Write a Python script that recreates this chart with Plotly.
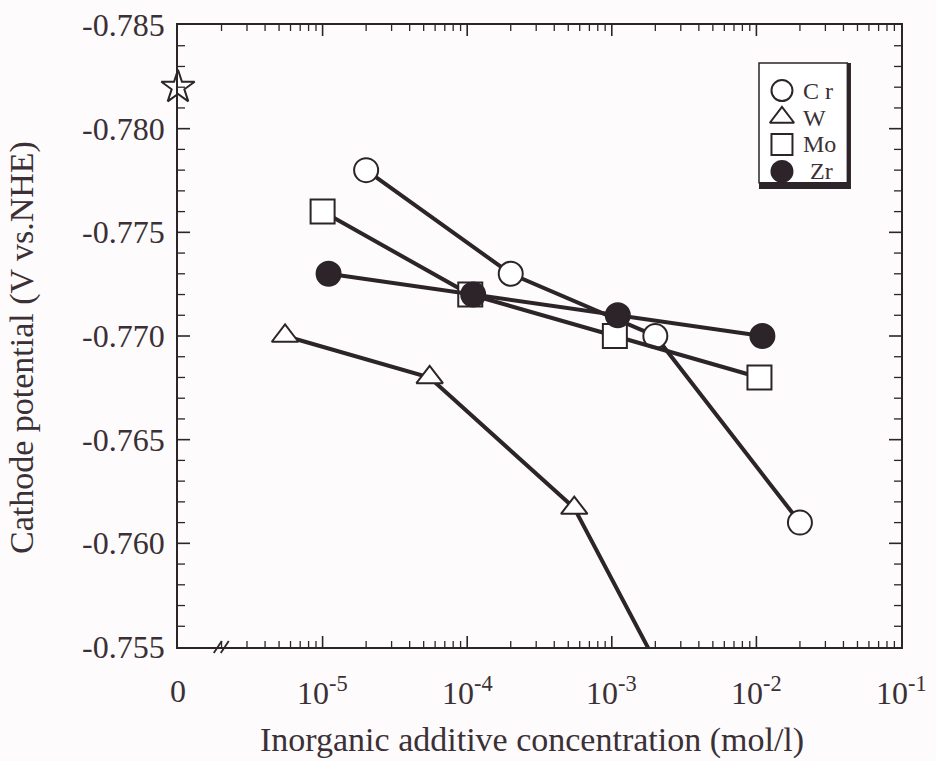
import math
import plotly.graph_objects as go

# ---- data -------------------------------------------------------------
SERIES = ["C r", "W", "Mo", "Zr"]

CONC_CR = [2e-5, 2e-4, 2e-3, 2e-2]
E_CR = [-0.778, -0.773, -0.770, -0.761]

CONC_W = [5.5e-6, 5.5e-5, 5.5e-4, 5.5e-3]
E_W = [-0.770, -0.768, -0.7617, -0.7485]

CONC_MO = [1e-5, 1.05e-4, 1.05e-3, 1.05e-2]
E_MO = [-0.776, -0.772, -0.770, -0.768]

CONC_ZR = [1.1e-5, 1.1e-4, 1.1e-3, 1.1e-2]
E_ZR = [-0.773, -0.772, -0.771, -0.770]

# additive-free bath, drawn on the "0" position of the broken axis
ZERO_POS = 1e-6
E_BLANK = -0.782

X_TICKVALS = [1e-6, 1e-5, 1e-4, 1e-3, 1e-2, 1e-1]
X_TICKTEXT = ["0", "10<sup>-5</sup>", "10<sup>-4</sup>", "10<sup>-3</sup>",
              "10<sup>-2</sup>", "10<sup>-1</sup>"]

Y_TICKVALS = [-0.785, -0.780, -0.775, -0.770, -0.765, -0.760, -0.755]
Y_TICKTEXT = ["-0.785", "-0.780", "-0.775", "-0.770", "-0.765", "-0.760", "-0.755"]

# axis extents
X_LOG_RANGE = [-6, -1]
Y_RANGE = [-0.755, -0.785]   # reversed: more negative potential at the top

# ---- style --------------------------------------------------------------
INK = "#2c2428"
TXT = "#3a3035"
BG = "#fdfbfc"
FONT = "Liberation Serif, Times New Roman, serif"
MSIZE = 24
LW = 4

STYLES = [
    dict(symbol="circle", color="white", line=dict(color=INK, width=2)),
    dict(symbol="triangle-up", color="white", line=dict(color=INK, width=2)),
    dict(symbol="square", color="white", line=dict(color=INK, width=2)),
    dict(symbol="circle", color=INK, line=dict(color=INK, width=2)),
]
DATA = [(CONC_CR, E_CR), (CONC_W, E_W), (CONC_MO, E_MO), (CONC_ZR, E_ZR)]

fig = go.Figure()

for name, (xs, ys), st in zip(SERIES, DATA, STYLES):
    fig.add_trace(go.Scatter(
        x=xs, y=ys, name=name, mode="lines+markers",
        line=dict(color=INK, width=LW),
        marker=dict(size=MSIZE if st["symbol"] != "triangle-up" else 23, **st),
        showlegend=False,
    ))

fig.add_trace(go.Scatter(
    x=[ZERO_POS], y=[E_BLANK], mode="markers", name="0",
    marker=dict(symbol="star", size=25, color="white", line=dict(color=INK, width=2)),
    cliponaxis=False, showlegend=False,
))

# ---- hand-drawn key on an auxiliary unit axis -----------------------------
KEY_X0, KEY_X1 = 0.8036, 0.9308
KEY_Y0, KEY_Y1 = 0.7363, 0.9389
row_y = [0.77 - i * 0.225 for i in range(len(SERIES))]

for name, st, yy in zip(SERIES, STYLES, row_y):
    fig.add_trace(go.Scatter(
        x=[0.26], y=[yy], xaxis="x2", yaxis="y2", mode="markers",
        marker=dict(size=21, **st),
        showlegend=False, hoverinfo="skip",
    ))
    fig.add_annotation(
        x=0.47 if name != "Zr" else 0.55, y=yy, xref="x2", yref="y2",
        text=name, showarrow=False, xanchor="left", yanchor="middle",
        font=dict(family=FONT, size=24, color=TXT),
    )

# key frame with drop shadow
fig.add_shape(type="rect", xref="paper", yref="paper",
              x0=KEY_X0, x1=KEY_X1, y0=KEY_Y0, y1=KEY_Y1, layer="below",
              line=dict(width=0), fillcolor=INK)
fig.add_shape(type="rect", xref="paper", yref="paper",
              x0=KEY_X0, x1=KEY_X1 - 0.005, y0=KEY_Y0 + 0.010, y1=KEY_Y1,
              layer="below", line=dict(color=INK, width=1.5), fillcolor="white")

# axis-break mark on the bottom axis
for dx in (0, 7):
    fig.add_shape(type="line", xref="paper", yref="paper",
                  xsizemode="pixel", xanchor=0.055, x0=dx - 4, x1=dx + 4,
                  ysizemode="pixel", yanchor=0, y0=-6, y1=6,
                  line=dict(color=INK, width=1.8), layer="above")


# ---- inward tick marks on all four sides of the frame ----------------------
def x_frac(v):
    return (math.log10(v) - X_LOG_RANGE[0]) / (X_LOG_RANGE[1] - X_LOG_RANGE[0])


def y_frac(v):
    return (v - Y_RANGE[0]) / (Y_RANGE[1] - Y_RANGE[0])


def x_tick(frac, length, width):
    for anchor, y0, y1 in ((0, 0, length), (1, -length, 0)):
        fig.add_shape(type="line", xref="paper", x0=frac, x1=frac,
                      yref="paper", ysizemode="pixel", yanchor=anchor, y0=y0, y1=y1,
                      line=dict(color=INK, width=width), layer="above")


def y_tick(frac, length, width):
    for anchor, x0, x1 in ((0, 0, length), (1, -length, 0)):
        fig.add_shape(type="line", yref="paper", y0=frac, y1=frac,
                      xref="paper", xsizemode="pixel", xanchor=anchor, x0=x0, x1=x1,
                      line=dict(color=INK, width=width), layer="above")


for e in range(X_LOG_RANGE[0], X_LOG_RANGE[1]):
    if e > X_LOG_RANGE[0]:
        x_tick(x_frac(10.0 ** e), 11, 1.6)
    for m in range(2, 10):
        x_tick(x_frac(m * 10.0 ** e), 6, 1.3)

n_minor = int(round(abs(Y_RANGE[1] - Y_RANGE[0]) / 0.001))
for k in range(1, n_minor):
    v = Y_RANGE[1] + k * 0.001
    if k % 5 == 0:
        y_tick(y_frac(v), 12, 1.6)
    else:
        y_tick(y_frac(v), 7, 1.3)

# tick labels (plain hyphen minus, superscript exponents)
for v, t in zip(X_TICKVALS, X_TICKTEXT):
    fig.add_annotation(x=math.log10(v), y=0, xref="x", yref="paper", text=t,
                       showarrow=False, xanchor="center", yanchor="middle",
                       yshift=-44, font=dict(family=FONT, size=32, color=TXT))
for v, t in zip(Y_TICKVALS, Y_TICKTEXT):
    fig.add_annotation(x=0, y=v, xref="paper", yref="y", text=t,
                       showarrow=False, xanchor="right", yanchor="middle",
                       xshift=-11, font=dict(family=FONT, size=32, color=TXT))

axis_common = dict(showline=True, linecolor=INK, linewidth=2, mirror=True,
                   ticks="", showgrid=False, zeroline=False, showticklabels=False)

fig.update_layout(
    width=936, height=761,
    margin=dict(l=178, r=35, t=25, b=114),
    paper_bgcolor=BG, plot_bgcolor="rgba(0,0,0,0)",
    xaxis=dict(type="log", range=X_LOG_RANGE, **axis_common),
    yaxis=dict(range=Y_RANGE, **axis_common),
    xaxis2=dict(domain=[KEY_X0, KEY_X1 - 0.005], range=[0, 1], visible=False,
                anchor="y2"),
    yaxis2=dict(domain=[KEY_Y0 + 0.010, KEY_Y1], range=[0, 1], visible=False,
                anchor="x2"),
    showlegend=False,
)

fig.add_annotation(text="Inorganic additive concentration (mol/l)",
                   xref="paper", yref="paper", x=0.49, y=-0.1495,
                   showarrow=False, xanchor="center", yanchor="middle",
                   font=dict(family=FONT, size=34, color=TXT))
fig.add_annotation(text="Cathode potential (V vs.NHE)",
                   xref="paper", yref="paper", x=-0.216, y=0.482, textangle=-90,
                   showarrow=False, xanchor="center", yanchor="middle",
                   font=dict(family=FONT, size=34, color=TXT))

fig.write_html("out.html")
